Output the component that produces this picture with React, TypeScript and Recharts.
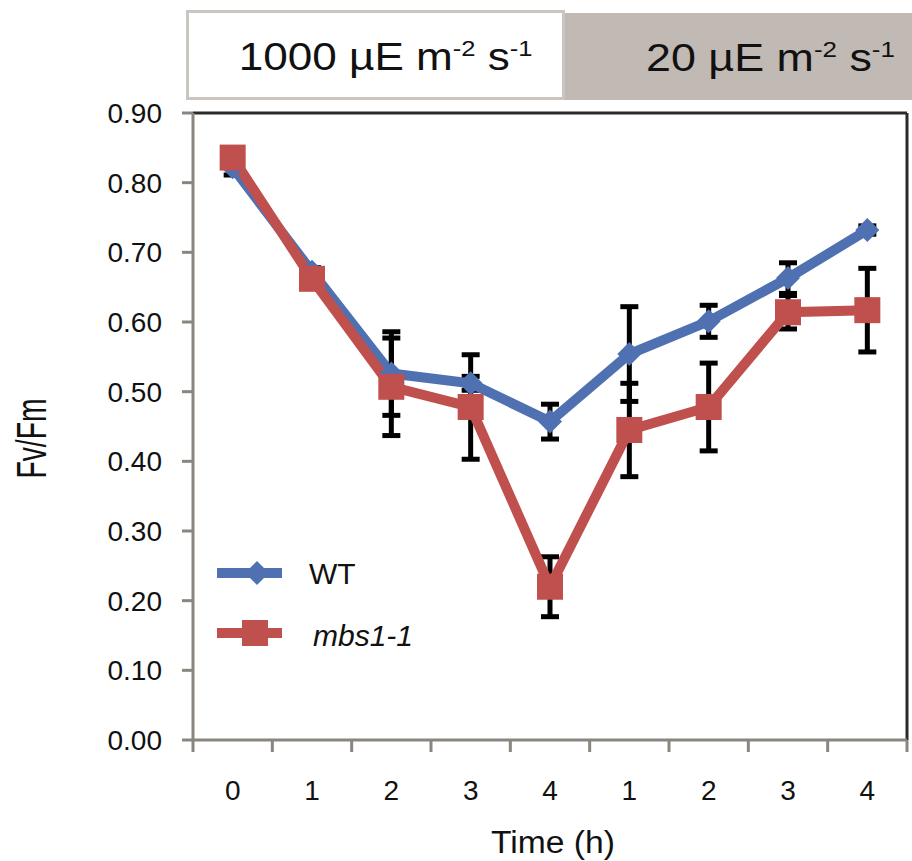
import { LineChart, Line, XAxis, YAxis, ErrorBar, Legend, ReferenceLine } from 'recharts';

// Time points (two light phases, 9 measurements)
const timeKeys = ['t0', 't1', 't2', 't3', 't4', 't5', 't6', 't7', 't8'];
const timeLabels = ['0', '1', '2', '3', '4', '1', '2', '3', '4'];

// Fv/Fm means and SD
const wtValues = [0.822, 0.672, 0.526, 0.512, 0.457, 0.554, 0.601, 0.663, 0.732];
const wtErrors = [0.011, 0.006, 0.06, 0.01, 0.025, 0.068, 0.023, 0.022, 0.006];
const mbsValues = [0.836, 0.662, 0.507, 0.478, 0.22, 0.445, 0.478, 0.614, 0.617];
const mbsErrors = [0.006, 0.006, 0.07, 0.075, 0.043, 0.067, 0.063, 0.024, 0.06];

const yTicks = [0, 0.1, 0.2, 0.3, 0.4, 0.5, 0.6, 0.7, 0.8, 0.9];

const WT_COLOR = '#4f71b2';
const MBS_COLOR = '#c0504d';
const AXIS_GRAY = '#8a857f';
const FRAME = '#2b2b2b';
const FONT = '"Liberation Sans", Arial, sans-serif';

const CHART_W = 912;
const CHART_H = 861;
const Y_W = 80;
const X_H = 100;
const MARGIN = { top: 113, right: 5, left: 193 - Y_W, bottom: CHART_H - 740 - X_H };
const PLOT_W = CHART_W - MARGIN.left - MARGIN.right - Y_W;
const BAND = PLOT_W / timeKeys.length;

const chartData = timeKeys.map((key, i) => ({
  key,
  label: timeLabels[i],
  wt: wtValues[i],
  wtErr: wtErrors[i],
  mbs: mbsValues[i],
  mbsErr: mbsErrors[i],
}));

const Diamond = ({ cx, cy, size = 12, color }: any) => {
  if (cx == null || cy == null) return null;
  return (
    <path
      d={`M${cx},${cy - size} L${cx + size},${cy} L${cx},${cy + size} L${cx - size},${cy} Z`}
      fill={color}
    />
  );
};

const Square = ({ cx, cy, size = 13, color }: any) => {
  if (cx == null || cy == null) return null;
  return <rect x={cx - size} y={cy - size} width={size * 2} height={size * 2} fill={color} />;
};

// x ticks sit on the category boundaries, labels in the middle
const XTick = ({ x, y, payload, index }: any) => {
  const left = x - BAND / 2;
  const right = x + BAND / 2;
  return (
    <g>
      <line x1={left} x2={left} y1={y} y2={y + 12} stroke={AXIS_GRAY} strokeWidth={3} />
      {index === timeKeys.length - 1 && (
        <line x1={right} x2={right} y1={y} y2={y + 12} stroke={AXIS_GRAY} strokeWidth={3} />
      )}
      <text x={x} y={y + 60} textAnchor="middle" fontSize={28} fontFamily={FONT} fill="#111">
        {timeLabels[timeKeys.indexOf(payload.value)]}
      </text>
    </g>
  );
};

const LegendContent = () => (
  <svg width={260} height={120} style={{ overflow: 'visible' }}>
    <line x1={7} x2={72} y1={23} y2={23} stroke={WT_COLOR} strokeWidth={10} />
    <Diamond cx={47} cy={23} size={12} color={WT_COLOR} />
    <text x={99} y={34} fontSize={30} fontFamily={FONT} fill="#111">WT</text>
    <line x1={7} x2={72} y1={83} y2={83} stroke={MBS_COLOR} strokeWidth={10} />
    <Square cx={45} cy={83} size={13} color={MBS_COLOR} />
    <text x={103} y={96} fontSize={30} fontFamily={FONT} fontStyle="italic" fill="#111">mbs1-1</text>
  </svg>
);

const sup: React.CSSProperties = { fontSize: 22, verticalAlign: 'super', lineHeight: 0 };

export default function App() {
  return (
    <div style={{ position: 'absolute', left: 0, top: 0, width: CHART_W, height: CHART_H, background: '#fff' }}>
      {/* light condition header */}
      <div
        style={{
          position: 'absolute', left: 565, top: 13, width: CHART_W - 565, height: 87,
          background: '#c0b9b4',
        }}
      />
      <div
        style={{
          position: 'absolute', left: 186, top: 10, width: 379, height: 90, boxSizing: 'border-box',
          border: '3px solid #cac5c0', background: '#fff',
        }}
      />
      <div style={{ position: 'absolute', left: 186, top: 12, width: 379, height: 90, display: 'flex', alignItems: 'center', justifyContent: 'center', fontFamily: FONT, fontSize: 38, color: '#111' }}>
        <span style={{ display: 'inline-block', transform: 'scaleX(1.16)', marginLeft: 20 }}>
          1000 µE m<span style={sup}>-2</span> s<span style={sup}>-1</span>
        </span>
      </div>
      <div style={{ position: 'absolute', left: 565, top: 15, width: CHART_W - 565, height: 87, display: 'flex', alignItems: 'center', justifyContent: 'center', fontFamily: FONT, fontSize: 38, color: '#111' }}>
        <span style={{ display: 'inline-block', transform: 'scaleX(1.18)', marginLeft: 64 }}>
          20 µE m<span style={sup}>-2</span> s<span style={sup}>-1</span>
        </span>
      </div>

      <div style={{ position: 'absolute', left: 0, top: 0 }}>
        <LineChart width={CHART_W} height={CHART_H} data={chartData} margin={MARGIN}>
          <XAxis
            dataKey="key"
            scale="band"
            height={X_H}
            interval={0}
            tickSize={0}
            tickMargin={0}
            tickLine={false}
            axisLine={{ stroke: AXIS_GRAY, strokeWidth: 3 }}
            tick={<XTick />}
            label={({ viewBox }: any) => (
              <text
                x={viewBox.x + viewBox.width / 2 + 3}
                y={viewBox.y + 113}
                textAnchor="middle"
                fontSize={31}
                textLength={124}
                lengthAdjust="spacingAndGlyphs"
                fontFamily={FONT}
                fill="#111"
              >
                Time (h)
              </text>
            )}
          />
          <YAxis
            type="number"
            domain={[0, 0.9]}
            ticks={yTicks}
            width={Y_W}
            interval={0}
            tickSize={11}
            tickMargin={20}
            tickFormatter={(v: number) => v.toFixed(2)}
            tick={{ fontSize: 28, fontFamily: FONT, fill: '#111' }}
            tickLine={{ stroke: AXIS_GRAY, strokeWidth: 3 }}
            axisLine={{ stroke: AXIS_GRAY, strokeWidth: 3 }}
            label={({ viewBox }: any) => (
              <text
                transform={`translate(${viewBox.x - 67}, ${viewBox.y + viewBox.height / 2 + 12}) rotate(-90)`}
                textAnchor="middle"
                fontSize={43}
                textLength={80}
                lengthAdjust="spacingAndGlyphs"
                fontFamily={FONT}
                fill="#111"
              >
                Fv/Fm
              </text>
            )}
          />

          {/* dark frame on top and right of the plot */}
          <ReferenceLine y={0.9} stroke={FRAME} strokeWidth={3} />
          <ReferenceLine x="t8" position="end" stroke={FRAME} strokeWidth={3} />

          <Line
            dataKey="wt"
            name="WT"
            stroke={WT_COLOR}
            strokeWidth={10}
            isAnimationActive={false}
            dot={(p: any) => <Diamond key={`wt-${p.index}`} cx={p.cx} cy={p.cy} size={12} color={WT_COLOR} />}
            activeDot={false}
          >
            <ErrorBar dataKey="wtErr" direction="y" width={9} stroke="#000" strokeWidth={5} isAnimationActive={false} />
          </Line>
          <Line
            dataKey="mbs"
            name="mbs1-1"
            stroke={MBS_COLOR}
            strokeWidth={10}
            isAnimationActive={false}
            dot={(p: any) => <Square key={`mbs-${p.index}`} cx={p.cx} cy={p.cy} size={13} color={MBS_COLOR} />}
            activeDot={false}
          >
            <ErrorBar dataKey="mbsErr" direction="y" width={9} stroke="#000" strokeWidth={5} isAnimationActive={false} />
          </Line>

          <Legend
            layout="horizontal"
            verticalAlign="middle"
            align="center"
            content={<LegendContent />}
            wrapperStyle={{ left: 210, top: 550, width: 260, height: 120 }}
          />
        </LineChart>
      </div>
    </div>
  );
}
